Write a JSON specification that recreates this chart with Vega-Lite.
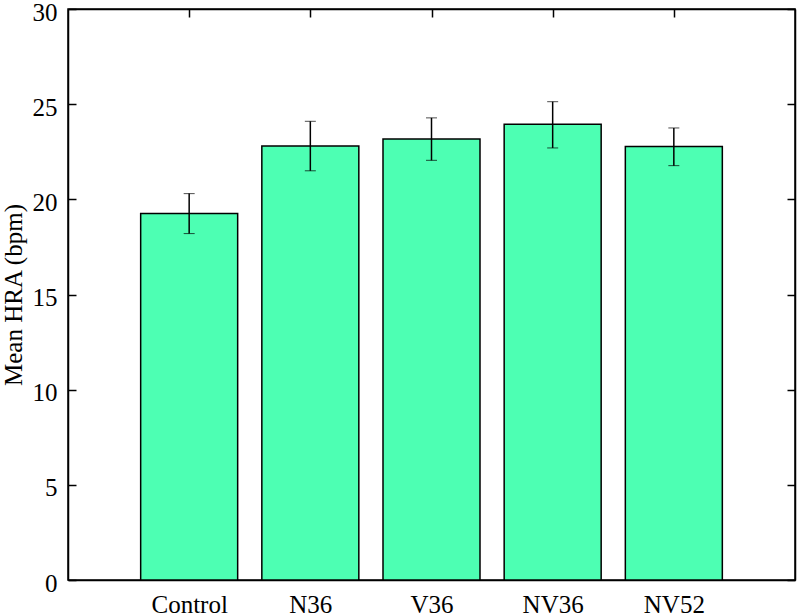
{
  "$schema": "https://vega.github.io/schema/vega-lite/v6.json",
  "width": 727,
  "height": 571,
  "autosize": {"type": "none"},
  "padding": {"left": 68, "top": 9, "right": 3, "bottom": 36},
  "background": "white",
  "config": {
    "font": "Liberation Serif",
    "view": {"stroke": "black", "strokeWidth": 1.5},
    "axis": {
      "domainColor": "black", "tickColor": "black", "labelColor": "black", "titleColor": "black",
      "labelFont": "Liberation Serif", "titleFont": "Liberation Serif",
      "labelFontSize": 25, "titleFontSize": 25, "titleFontWeight": "normal",
      "grid": false, "tickSize": -8, "domainWidth": 1.5, "tickWidth": 1.5
    }
  },
  "data": {
    "values": [
      {"group": "Control", "mean": 19.25, "lo": 18.2, "hi": 20.3},
      {"group": "N36", "mean": 22.8, "lo": 21.5, "hi": 24.1},
      {"group": "V36", "mean": 23.17, "lo": 22.05, "hi": 24.28},
      {"group": "NV36", "mean": 23.95, "lo": 22.7, "hi": 25.13},
      {"group": "NV52", "mean": 22.77, "lo": 21.77, "hi": 23.75}
    ]
  },
  "layer": [
    {
      "mark": {"type": "bar", "width": 97, "fill": "#4dffb3", "stroke": "black", "strokeWidth": 1.5},
      "encoding": {
        "x": {
          "field": "group", "type": "nominal",
          "scale": {"type": "point", "padding": 0, "domain": ["L", "Control", "N36", "V36", "NV36", "NV52", "R"]},
          "axis": {"orient": "bottom", "values": ["Control", "N36", "V36", "NV36", "NV52"], "labelAngle": 0, "title": null, "labelPadding": 20}
        },
        "y": {
          "field": "mean", "type": "quantitative",
          "scale": {"domain": [0, 30], "nice": false},
          "axis": {"orient": "left", "values": [0, 5, 10, 15, 20, 25, 30], "title": "Mean HRA (bpm)", "labelPadding": 19, "labelOffset": 3, "titlePadding": 6}
        }
      }
    },
    {
      "mark": {"type": "errorbar", "color": "black", "ticks": {"size": 11, "strokeWidth": 1.5}, "rule": {"strokeWidth": 1.5}},
      "encoding": {
        "x": {
          "field": "group", "type": "nominal",
          "scale": {"type": "point", "padding": 0, "domain": ["L", "Control", "N36", "V36", "NV36", "NV52", "R"]},
          "axis": {"orient": "top", "values": ["Control", "N36", "V36", "NV36", "NV52"], "labels": false, "title": null}
        },
        "y": {
          "field": "lo", "type": "quantitative",
          "scale": {"domain": [0, 30], "nice": false},
          "axis": {"orient": "right", "values": [0, 5, 10, 15, 20, 25, 30], "labels": false, "title": null}
        },
        "y2": {"field": "hi"}
      }
    }
  ],
  "resolve": {"axis": {"x": "independent", "y": "independent"}}
}
